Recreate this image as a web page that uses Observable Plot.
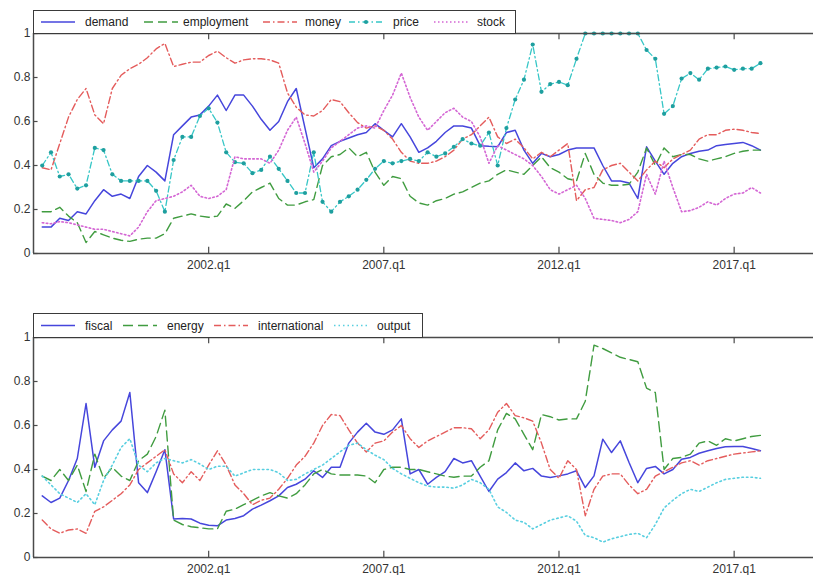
<!DOCTYPE html>
<html>
<head>
<meta charset="utf-8">
<script src="https://cdn.jsdelivr.net/npm/d3@7"></script>
<script src="https://cdn.jsdelivr.net/npm/@observablehq/plot@0.6"></script>
<style>
  html, body { margin: 0; padding: 0; background: #fff; }
  #wrap { position: relative; width: 813px; height: 575px; overflow: hidden; font-family: "Liberation Sans", Arial, sans-serif; }
  .panel { position: absolute; left: 0; }
  .legend { position: absolute; border: 1px solid #3a3a3a; background: #fff; box-sizing: border-box; font-size: 12px; color: #222; }
  .legend span { position: absolute; top: 50%; transform: translateY(-50%); white-space: nowrap; }
  .legend svg { position: absolute; top: 0; }
</style>
</head>
<body>
<div id="wrap"></div>
<script>
// ---------- data ----------
const startYear = 1997, startQuarter = 2;   // first observation 1997.q2, last 2017.q4
const xTickValues = [2002, 2007, 2012, 2017];
const xTickLabels = ["2002.q1", "2007.q1", "2012.q1", "2017.q1"];
const yTickValues = [0, 0.2, 0.4, 0.6, 0.8, 1];
const yTickLabels = ["0", "0.2", "0.4", "0.6", "0.8", "1"];

const topSeries = ["demand", "employment", "money", "price", "stock"];
const bottomSeries = ["fiscal", "energy", "international", "output"];

const demand = [
  0.12,0.12,0.16,0.15,0.19,0.18,0.24,0.29,0.26,0.27,
  0.25,0.35,0.40,0.37,0.33,0.54,0.58,0.62,0.63,0.67,
  0.72,0.65,0.72,0.72,0.67,0.61,0.56,0.60,0.69,0.75,
  0.57,0.39,0.43,0.49,0.51,0.525,0.54,0.55,0.59,0.56,
  0.53,0.59,0.53,0.46,0.48,0.51,0.55,0.58,0.58,0.57,
  0.49,0.487,0.485,0.55,0.56,0.47,0.41,0.455,0.44,0.45,
  0.47,0.48,0.48,0.48,0.40,0.33,0.33,0.32,0.25,0.485,
  0.42,0.36,0.41,0.44,0.455,0.465,0.47,0.49,0.495,0.50,
  0.505,0.49,0.47];
const employment = [
  0.19,0.19,0.21,0.17,0.14,0.05,0.10,0.085,0.07,0.06,
  0.055,0.065,0.07,0.07,0.09,0.16,0.17,0.18,0.17,0.165,
  0.17,0.225,0.205,0.24,0.28,0.30,0.32,0.25,0.22,0.22,
  0.235,0.245,0.40,0.44,0.45,0.48,0.44,0.46,0.37,0.31,
  0.35,0.34,0.26,0.23,0.22,0.24,0.25,0.27,0.28,0.30,
  0.32,0.33,0.36,0.38,0.37,0.36,0.40,0.44,0.39,0.37,
  0.34,0.33,0.455,0.36,0.32,0.31,0.31,0.315,0.37,0.48,
  0.40,0.48,0.44,0.45,0.45,0.43,0.42,0.43,0.44,0.455,
  0.465,0.47,0.47];
const money = [
  0.39,0.38,0.50,0.62,0.70,0.75,0.63,0.59,0.75,0.81,
  0.84,0.86,0.89,0.93,0.955,0.85,0.86,0.87,0.87,0.90,
  0.92,0.89,0.865,0.88,0.885,0.885,0.88,0.865,0.73,0.665,
  0.63,0.625,0.65,0.70,0.69,0.64,0.595,0.57,0.58,0.56,
  0.52,0.46,0.42,0.41,0.41,0.42,0.44,0.47,0.52,0.54,
  0.58,0.62,0.53,0.50,0.52,0.48,0.43,0.46,0.44,0.47,
  0.50,0.24,0.29,0.30,0.38,0.40,0.41,0.37,0.33,0.38,
  0.42,0.39,0.43,0.45,0.47,0.52,0.54,0.54,0.56,0.565,
  0.56,0.55,0.545];
const price = [
  0.40,0.46,0.35,0.36,0.295,0.31,0.48,0.47,0.36,0.33,
  0.33,0.33,0.33,0.285,0.19,0.425,0.53,0.53,0.625,0.66,
  0.595,0.46,0.415,0.41,0.365,0.38,0.44,0.385,0.33,0.275,
  0.275,0.46,0.235,0.19,0.235,0.26,0.29,0.335,0.385,0.42,
  0.41,0.42,0.43,0.42,0.46,0.44,0.455,0.485,0.52,0.50,
  0.49,0.55,0.40,0.57,0.70,0.79,0.95,0.735,0.77,0.78,
  0.765,0.885,1,1,1,1,1,1,1,0.925,
  0.885,0.635,0.67,0.795,0.82,0.79,0.84,0.845,0.85,0.835,
  0.84,0.84,0.865];
const stock = [
  0.14,0.135,0.145,0.14,0.13,0.12,0.11,0.11,0.10,0.09,
  0.08,0.12,0.19,0.24,0.25,0.26,0.28,0.31,0.26,0.25,
  0.26,0.29,0.44,0.43,0.43,0.43,0.41,0.47,0.56,0.62,
  0.50,0.37,0.42,0.48,0.51,0.54,0.57,0.58,0.57,0.65,
  0.72,0.82,0.71,0.62,0.56,0.60,0.64,0.66,0.62,0.60,
  0.53,0.41,0.49,0.47,0.45,0.43,0.40,0.35,0.29,0.27,
  0.29,0.31,0.25,0.16,0.155,0.15,0.14,0.155,0.19,0.36,
  0.27,0.42,0.30,0.19,0.195,0.21,0.235,0.22,0.25,0.27,
  0.275,0.30,0.275];

const fiscal = [
  0.28,0.25,0.27,0.35,0.45,0.70,0.41,0.53,0.58,0.62,
  0.75,0.34,0.295,0.39,0.49,0.175,0.177,0.175,0.156,0.147,
  0.144,0.17,0.177,0.19,0.22,0.238,0.258,0.28,0.318,0.333,
  0.356,0.394,0.364,0.41,0.41,0.52,0.57,0.61,0.57,0.56,
  0.58,0.63,0.38,0.40,0.333,0.364,0.39,0.45,0.43,0.44,
  0.37,0.30,0.356,0.386,0.43,0.394,0.405,0.37,0.364,0.371,
  0.38,0.394,0.318,0.371,0.538,0.477,0.53,0.432,0.34,0.405,
  0.414,0.38,0.40,0.447,0.455,0.474,0.485,0.495,0.503,0.505,
  0.505,0.495,0.485];
const energy = [
  0.37,0.35,0.40,0.35,0.42,0.30,0.47,0.36,0.41,0.37,
  0.35,0.44,0.47,0.55,0.67,0.17,0.15,0.14,0.135,0.13,
  0.13,0.21,0.22,0.24,0.26,0.28,0.295,0.28,0.27,0.29,
  0.33,0.38,0.40,0.38,0.375,0.375,0.375,0.37,0.34,0.40,
  0.41,0.41,0.40,0.40,0.39,0.38,0.37,0.365,0.37,0.37,
  0.41,0.44,0.58,0.655,0.63,0.56,0.49,0.65,0.64,0.625,
  0.63,0.63,0.71,0.965,0.95,0.93,0.91,0.90,0.89,0.77,
  0.75,0.40,0.45,0.455,0.47,0.52,0.53,0.51,0.54,0.53,
  0.54,0.55,0.555];
const international = [
  0.17,0.13,0.11,0.125,0.13,0.11,0.21,0.23,0.26,0.29,
  0.33,0.40,0.43,0.46,0.49,0.38,0.34,0.39,0.35,0.42,
  0.485,0.42,0.33,0.29,0.24,0.26,0.27,0.31,0.36,0.42,
  0.46,0.52,0.60,0.65,0.645,0.58,0.52,0.48,0.52,0.53,
  0.57,0.60,0.54,0.50,0.53,0.55,0.57,0.59,0.59,0.585,
  0.54,0.58,0.66,0.70,0.645,0.635,0.62,0.52,0.40,0.36,
  0.44,0.40,0.19,0.31,0.37,0.38,0.38,0.33,0.29,0.31,
  0.37,0.39,0.41,0.43,0.44,0.42,0.44,0.45,0.46,0.47,
  0.475,0.48,0.485];
const output = [
  0.37,0.33,0.29,0.27,0.25,0.29,0.24,0.35,0.42,0.50,
  0.54,0.42,0.39,0.43,0.45,0.44,0.43,0.445,0.425,0.40,
  0.415,0.415,0.37,0.385,0.40,0.40,0.40,0.385,0.35,0.355,
  0.38,0.40,0.42,0.45,0.48,0.51,0.52,0.49,0.465,0.445,
  0.405,0.38,0.36,0.34,0.325,0.32,0.32,0.315,0.33,0.355,
  0.34,0.31,0.23,0.205,0.17,0.16,0.13,0.15,0.17,0.18,
  0.19,0.165,0.10,0.09,0.07,0.085,0.095,0.105,0.11,0.09,
  0.15,0.225,0.26,0.29,0.31,0.30,0.32,0.34,0.355,0.36,
  0.365,0.365,0.36];

// ---------- styles ----------
const styles = {
  demand:        {stroke: "#4646dc", dash: null,            width: 1.5},
  employment:    {stroke: "#409c40", dash: "9,5",          width: 1.4},
  money:         {stroke: "#e45c5c", dash: "7,3,1.5,3",    width: 1.4},
  price:         {stroke: "#36c6c6", dash: "6,3,1.5,3",    width: 1.3, dot: "#1e9f9f"},
  stock:         {stroke: "#d466d4", dash: "1.5,2.5",      width: 1.6},
  fiscal:        {stroke: "#4646dc", dash: null,            width: 1.5},
  energy:        {stroke: "#409c40", dash: "10,5",         width: 1.4},
  international: {stroke: "#e45c5c", dash: "7,3,1.5,3",    width: 1.4},
  output:        {stroke: "#58cfe0", dash: "1.5,3",        width: 1.6}
};
const seriesData = {demand, employment, money, price, stock, fiscal, energy, international, output};

const t0 = startYear + (startQuarter - 1) / 4;
function rows(name) {
  return seriesData[name].map((v, i) => ({t: t0 + i / 4, v, name}));
}

const xDomain = [1997.0, 2019.265];
const axisColor = "#4a4a4a";
const font = "'Liberation Sans', Arial, sans-serif";

function panel(names, top, marginTop, height, marginBottom) {
  const marks = [];
  for (const n of names) {
    const s = styles[n];
    marks.push(Plot.line(rows(n), {x: "t", y: "v", stroke: s.stroke, strokeWidth: s.width,
      strokeDasharray: s.dash || undefined, strokeLinejoin: "round"}));
    if (s.dot) marks.push(Plot.dot(rows(n), {x: "t", y: "v", r: 2.1, fill: s.dot, stroke: "none"}));
  }
  marks.push(
    Plot.ruleY([0, 1], {stroke: axisColor, strokeWidth: 1.5}),
    Plot.ruleX([xDomain[0]], {stroke: axisColor, strokeWidth: 1.5}),
    Plot.ruleX(xTickValues, {y1: 0, y2: 0.028, stroke: axisColor, strokeWidth: 1.2}),
    Plot.ruleX(xTickValues, {y1: 1, y2: 0.972, stroke: axisColor, strokeWidth: 1.2}),
    Plot.ruleY(yTickValues, {x1: xDomain[0], x2: xDomain[0] + 0.13, stroke: axisColor, strokeWidth: 1.2}),
    Plot.axisX({ticks: xTickValues, tickFormat: d => xTickLabels[xTickValues.indexOf(d)],
      tickSize: 0, tickPadding: 7, label: null, fill: "#333"}),
    Plot.axisY({ticks: yTickValues, tickFormat: d => yTickLabels[yTickValues.indexOf(d)],
      tickSize: 0, tickPadding: 3, label: null, fill: "#333"})
  );
  const svg = Plot.plot({
    width: 813, height,
    marginLeft: 33, marginRight: 0, marginTop, marginBottom,
    x: {domain: xDomain},
    y: {domain: [0, 1]},
    style: {fontSize: "12px", fontFamily: font, background: "transparent", overflow: "visible"},
    marks
  });
  const div = document.createElement("div");
  div.className = "panel";
  div.style.top = top + "px";
  div.appendChild(svg);
  return div;
}

function legend(names, left, top, width, height, sampleX, textX) {
  const box = document.createElement("div");
  box.className = "legend";
  Object.assign(box.style, {left: left + "px", top: top + "px", width: width + "px", height: height + "px"});
  names.forEach((n, i) => {
    const s = styles[n];
    const sx = sampleX[i] - left - 1, sw = 36;
    const svg = d3.create("svg").attr("width", sw).attr("height", height - 2)
      .style("left", sx + "px");
    const cy = (height - 2) / 2;
    svg.append("line").attr("x1", 1).attr("x2", sw - 1).attr("y1", cy).attr("y2", cy)
      .attr("stroke", s.stroke).attr("stroke-width", s.width)
      .attr("stroke-dasharray", s.dash || null);
    if (s.dot) svg.append("circle").attr("cx", sw / 2).attr("cy", cy).attr("r", 2.1).attr("fill", s.dot);
    box.appendChild(svg.node());
    const sp = document.createElement("span");
    sp.textContent = n;
    sp.style.left = (textX[i] - left - 1) + "px";
    box.appendChild(sp);
  });
  return box;
}

const wrap = document.getElementById("wrap");
wrap.appendChild(panel(topSeries, 0, 33, 300, 47));
wrap.appendChild(panel(bottomSeries, 300, 37, 275, 18));
wrap.appendChild(legend(topSeries, 33, 10, 483, 24, [40, 143, 262, 348, 433], [85, 183, 305, 393, 477]));
wrap.appendChild(legend(bottomSeries, 33, 313, 390, 25, [40, 122, 213, 333], [85, 167, 258, 377]));
</script>
</body>
</html>
